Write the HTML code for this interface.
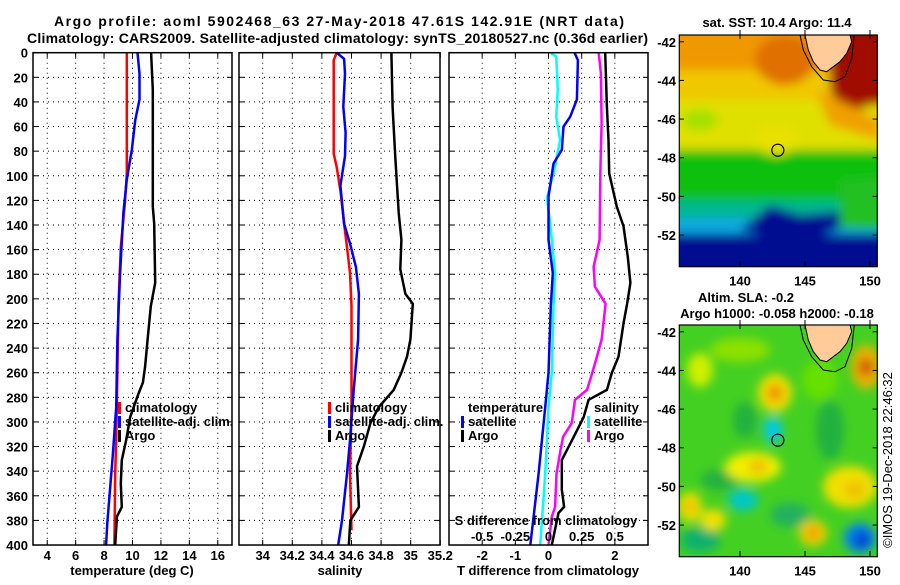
<!DOCTYPE html>
<html><head><meta charset="utf-8"><style>
body{margin:0;background:#fff;}
svg text{font-family:"Liberation Sans",sans-serif;font-weight:bold;fill:#000;}
</style></head><body>
<svg id="c" width="900" height="580" viewBox="0 0 900 580" xmlns="http://www.w3.org/2000/svg">
<defs>
<filter id="bl" x="-20%" y="-20%" width="140%" height="140%"><feGaussianBlur stdDeviation="5"/></filter>
<filter id="bl2" x="-50%" y="-50%" width="200%" height="200%"><feGaussianBlur stdDeviation="5"/></filter>
<clipPath id="cm1"><rect x="679.3" y="35" width="198" height="231.7"/></clipPath>
<clipPath id="cm2"><rect x="679.3" y="325" width="198" height="231.7"/></clipPath>
</defs>
<text x="54" y="26" font-size="14" textLength="570">Argo profile: aoml 5902468_63 27-May-2018 47.61S 142.91E (NRT data)</text>
<text x="27" y="43" font-size="14" textLength="621">Climatology: CARS2009. Satellite-adjusted climatology: synTS_20180527.nc (0.36d earlier)</text>
<g id="g"></g>
</svg>
<script>
// ---- data (depth in m) ----
const tClimDepth=[0,98,120,158,206,260,315,342,400];
const tClimVal=[9.6,9.6,9.48,9.18,9.01,8.94,8.85,8.78,8.73];
const tSatDepth=[0,17,38,55,79,103,130,179,233,288,328,355,382,400];
const tSatVal=[10.35,10.49,10.49,10.19,9.95,9.6,9.36,9.13,8.94,8.85,8.61,8.42,8.23,8.14];
const tArgoDepth=[0,30,125,139,187,206,233,255,268,277,296,315,331,350,369,377,400];
const tArgoVal=[11.31,11.43,11.43,11.53,11.6,11.29,11.06,10.89,10.73,10.42,9.84,9.55,9.25,9.18,9.25,8.9,8.78];
const sClimDepth=[0,6,82,93,112,139,158,179,206,288,342,388];
const sClimVal=[34.50,34.48,34.48,34.50,34.525,34.55,34.57,34.59,34.60,34.60,34.59,34.60];
const sSatDepth=[0,5,17,44,65,84,108,139,155,174,196,233,274,315,342,380,400];
const sSatVal=[34.50,34.55,34.556,34.545,34.56,34.556,34.525,34.55,34.59,34.63,34.65,34.645,34.615,34.59,34.57,34.536,34.51];
const sArgoDepth=[0,44,85,130,152,176,196,204,233,247,260,274,288,301,320,336,369,380,400];
const sArgoVal=[34.87,34.878,34.896,34.919,34.937,34.93,34.964,35.014,34.998,34.975,34.937,34.885,34.784,34.728,34.683,34.637,34.65,34.593,34.582];
const dTSatDepth=[0,6,38,52,60,79,90,117,152,179,206,260,288,342,400];
const dTSatVal=[0.785,0.887,0.855,0.654,0.452,0.4,0.15,0,0,0.13,0.07,0,-0.1,-0.3,-0.55];
const dTArgoDepth=[0,44,71,98,125,141,166,187,204,220,247,260,274,282,296,307,315,331,355,369,374,400];
const dTArgoVal=[1.71,1.76,1.81,1.83,2.06,2.26,2.39,2.47,2.37,2.26,2.11,1.91,1.76,1.21,1.06,0.856,0.705,0.40,0.40,0.47,0.30,0.10];
const dSSatDepth=[0,3,30,52,71,98,118,139,179,206,260,288,342,400];
const dSSatVal=[0.0125,0.058,0.07,0.058,0.0875,0.0375,-0.0125,0.0125,0.05,0.0375,0.025,0,-0.025,-0.0625];
const dSArgoDepth=[0,17,57,98,152,174,190,204,233,247,260,274,282,301,312,323,342,369,377,400];
const dSArgoVal=[0.378,0.395,0.40,0.39,0.385,0.34,0.35,0.43,0.40,0.365,0.33,0.29,0.20,0.175,0.11,0.09,0.06,0.05,0.025,0];
const depthTicks=[0,20,40,60,80,100,120,140,160,180,200,220,240,260,280,300,320,340,360,380,400];
const tTicks=[4,6,8,10,12,14,16];
const sTicks=[34,34.2,34.4,34.6,34.8,35,35.2];
const sTickLabels=["34","34.2","34.4","34.6","34.8","35","35.2"];
const dTTicks=[-2,-1,0,1,2];
const dTTickLabels=["-2","-1","0","","2"];
const dSTicks=[-0.5,-0.25,0,0.25,0.5];
const dSTickLabels=["-0.5","-0.25","0","0.25","0.5"];
const latTicks=[-42,-44,-46,-48,-50,-52];
const lonTicks=[140,145,150];
const argoLon=142.91, argoLat=-47.61;

// ---- axes ----
const yD=d=>52.7+d*1.2308;
const xT=t=>33+(t-3)*14.214;
const xS=s=>239+(s-33.84)*148;
const xD=t=>449+(t+3)*33.17;
const xDS=s=>xD(s*4);
const mx=lon=>679.3+(lon-135.33)*13;
const my1=lat=>35+(-41.65-lat)*19.33;
const my2=lat=>325+(-41.65-lat)*19.33;

const NS='http://www.w3.org/2000/svg';
const G=document.getElementById('g');
function mk(tag,at,parent){const e=document.createElementNS(NS,tag);for(const k in at)e.setAttribute(k,at[k]);(parent||G).appendChild(e);return e;}
function txt(s,at,parent){const e=mk('text',at,parent);e.textContent=s;return e;}

const panels=[{x0:33,x1:232,xs:tTicks.map(xT)},{x0:239,x1:440,xs:sTicks.map(xS)},{x0:449,x1:648,xs:dTTicks.map(xD)}];
const pNames=['temperature-panel','salinity-panel','difference-panel'];
panels.forEach((p,i)=>{
  const g=mk('g',{});
  
  
  p.g=g;
  depthTicks.forEach(d=>{
    const y=yD(d);
    if(d>0&&d<400){const l=mk('line',{x1:p.x0,x2:p.x1,y1:y,y2:y,stroke:'#000','stroke-width':1,'stroke-dasharray':'1,4'},g);
      }
    mk('line',{x1:p.x0,x2:p.x0+5,y1:y,y2:y,stroke:'#000'},g);
    mk('line',{x1:p.x1-5,x2:p.x1,y1:y,y2:y,stroke:'#000'},g);
  });
  p.xs.forEach(x=>{
    if(x>p.x0+1&&x<p.x1-1){const l=mk('line',{x1:x,x2:x,y1:yD(0),y2:yD(400),stroke:'#000','stroke-width':1,'stroke-dasharray':'1,4'},g);
      }
    mk('line',{x1:x,x2:x,y1:yD(400)-5,y2:yD(400),stroke:'#000'},g);
    mk('line',{x1:x,x2:x,y1:yD(0),y2:yD(0)+5,stroke:'#000'},g);
  });
});
depthTicks.forEach(d=>{const t=txt(String(d),{x:28,y:yD(d)+5,'font-size':13,'text-anchor':'end'});
  });
tTicks.forEach(v=>{const t=txt(String(v),{x:xT(v),y:560,'font-size':13,'text-anchor':'middle'});
  });
sTicks.forEach((v,i)=>{const t=txt(sTickLabels[i],{x:xS(v),y:560,'font-size':13,'text-anchor':'middle'});
  });
dTTicks.forEach((v,i)=>{const t=txt(dTTickLabels[i],{x:xD(v),y:560,'font-size':13,'text-anchor':'middle'});
  });
dSTicks.forEach((v,i)=>{const t=txt(dSTickLabels[i],{x:xDS(v),y:541,'font-size':13,'text-anchor':'middle'});
  });
let t;
t=txt('S difference from climatology',{x:546,y:525,'font-size':13,'text-anchor':'middle'});

t=txt('temperature (deg C)',{x:132,y:575,'font-size':13,'text-anchor':'middle'});

t=txt('salinity',{x:340,y:575,'font-size':13,'text-anchor':'middle'});

t=txt('T difference from climatology',{x:548,y:575,'font-size':13,'text-anchor':'middle'});


function line(dep,val,xf,col,name,parent){
  const pts=dep.map((d,i)=>xf(val[i]).toFixed(1)+','+yD(d).toFixed(1)).join(' ');
  const e=mk('polyline',{points:pts,fill:'none',stroke:col,'stroke-width':2.5,'stroke-linejoin':'miter'},parent);
  
  
}
line(tClimDepth,tClimVal,xT,'#f00','temp-climatology-line',panels[0].g);
line(tSatDepth,tSatVal,xT,'#00f','temp-satellite-line',panels[0].g);
line(tArgoDepth,tArgoVal,xT,'#000','temp-argo-line',panels[0].g);
line(sClimDepth,sClimVal,xS,'#f00','sal-climatology-line',panels[1].g);
line(sSatDepth,sSatVal,xS,'#00f','sal-satellite-line',panels[1].g);
line(sArgoDepth,sArgoVal,xS,'#000','sal-argo-line',panels[1].g);
line(dSSatDepth,dSSatVal,xDS,'#0ff','s-diff-satellite-line',panels[2].g);
line(dTSatDepth,dTSatVal,xD,'#00f','t-diff-satellite-line',panels[2].g);
line(dSArgoDepth,dSArgoVal,xDS,'#f0f','s-diff-argo-line',panels[2].g);
line(dTArgoDepth,dTArgoVal,xD,'#000','t-diff-argo-line',panels[2].g);

panels.forEach(p=>{mk('rect',{x:p.x0,y:yD(0),width:p.x1-p.x0,height:yD(400)-yD(0),fill:'none',stroke:'#000','stroke-width':1.5},p.g);});

function leg(x,y,col,label,name){
  const g=mk('g',{});
  
  
  if(col) mk('rect',{x:x-7,y:y-10,width:3,height:12,fill:col},g);
  txt(label,{x:x,y:y,'font-size':13},g);
}
leg(125,412,'#f00','climatology','legend-climatology');
leg(125,426,'#00f','satellite-adj. clim.','legend-satellite-adj');
leg(125,440,'#000','Argo','legend-argo');
leg(335,412,'#f00','climatology','legend-climatology');
leg(335,426,'#00f','satellite-adj. clim.','legend-satellite-adj');
leg(335,440,'#000','Argo','legend-argo');
leg(468,412,null,'temperature','legend-temperature-header');
leg(468,426,'#00f','satellite','legend-temp-satellite');
leg(468,440,'#000','Argo','legend-temp-argo');
leg(594,412,null,'salinity','legend-salinity-header');
leg(594,426,'#0ff','satellite','legend-sal-satellite');
leg(594,440,'#f0f','Argo','legend-sal-argo');

function mapAxes(myf,top,name){
  const g=mk('g',{});
  
  
  latTicks.forEach(l=>{const y=myf(l);
    txt(String(l),{x:676,y:y+5,'font-size':13,'text-anchor':'end'},g);
    mk('line',{x1:679.3,x2:684,y1:y,y2:y,stroke:'#000'},g);
    mk('line',{x1:872.6,x2:877.3,y1:y,y2:y,stroke:'#000'},g);});
  lonTicks.forEach(l=>{const x=mx(l);
    txt(String(l),{x:x,y:top+231.7+19,'font-size':13,'text-anchor':'middle'},g);
    mk('line',{x1:x,x2:x,y1:top+226,y2:top+231.7,stroke:'#000'},g);
    mk('line',{x1:x,x2:x,y1:top-5,y2:top+4,stroke:'#000'},g);});
  mk('rect',{x:679.3,y:top,width:198,height:231.7,fill:'none',stroke:'#000','stroke-width':1.2},g);
}
function tas(oy,parent){
  mk('polygon',{points:[[800,35],[803.3,50],[811.7,66.7],[823.3,80],[835,81.7],[845,76.7],[851.7,58.3],[854.3,35]].map(p=>p[0]+','+(p[1]+oy)).join(' '),fill:'none',stroke:'#000','stroke-width':1},parent);
  mk('polygon',{points:[[805,35],[808.3,50],[813.3,61.7],[820,70],[826.7,71.7],[833.3,66.7],[840,61.7],[846.7,53.3],[851.7,41.7],[850,35]].map(p=>p[0]+','+(p[1]+oy)).join(' '),fill:'#fc9',stroke:'#000','stroke-width':1},parent);
}
// SST map
const m1=mk('g',{'clip-path':'url(#cm1)'});


const b1=mk('g',{filter:'url(#bl)'},m1);
[[25,45,'#f09800'],[70,30,'#f0c800'],[100,50,'#e0e000'],[150,55,'#10c010'],[200,20,'#00b890'],[218,18,'#10a8e0'],[234,50,'#000c90']].forEach(r=>mk('rect',{x:660,y:r[0],width:240,height:r[1],fill:r[2]},b1));
mk('ellipse',{cx:785,cy:60,rx:30,ry:25,fill:'#e07000'},b1);
mk('polygon',{points:'830,20 900,20 900,105 870,105 845,115 830,90',fill:'#a01000'},b1);
mk('polygon',{points:'815,90 860,110 880,120 880,140 830,125',fill:'#f0a000'},b1);
mk('ellipse',{cx:776,cy:140,rx:22,ry:15,fill:'#e8e000'},b1);
mk('ellipse',{cx:700,cy:120,rx:18,ry:10,fill:'#a0e000'},b1);
mk('polygon',{points:'740,230 770,205 800,215 830,212 900,215 900,225 850,225 820,235 780,238',fill:'#000c90'},b1);
mk('polygon',{points:'840,180 900,175 900,230 840,228',fill:'#20c020'},b1);
tas(0,m1);
mk('circle',{cx:mx(argoLon),cy:my1(argoLat),r:6,fill:'none',stroke:'#000','stroke-width':1.2},m1);
mapAxes(my1,35,'sst-map');
// SLA map
const m2=mk('g',{'clip-path':'url(#cm2)'});


mk('rect',{x:679,y:325,width:199,height:232,fill:'#44d022'},m2);
const b2=mk('g',{filter:'url(#bl2)'},m2);
[[740,350,30,12,'#8ee000'],[820,380,18,20,'#66e000'],[720,480,20,10,'#22b040'],[830,430,14,30,'#22b040'],[700,540,20,12,'#10b070'],[790,515,20,12,'#20b060'],[745,420,12,18,'#22b040'],
 [775,393,17,19,'#f0e000'],[775,393,8,9,'#f09000'],[866,367,15,22,'#f0b000'],[866,367,7,9,'#c85000'],[700,370,13,17,'#d0f000'],
 [773,430,9,13,'#00c8f0'],[753,467,28,15,'#f0f000'],[758,467,10,8,'#f0c000'],[850,487,27,21,'#f0e000'],[855,490,10,9,'#f0c000'],[690,507,12,15,'#f0e000'],[690,507,5,6,'#f0b000'],[713,520,13,11,'#f0e000'],
 [743,500,15,11,'#00c8c8'],[813,533,14,13,'#f0d000'],[813,533,6,6,'#f09000'],[860,538,16,15,'#0080f0'],[862,540,7,7,'#0020c0']].forEach(b=>mk('ellipse',{cx:b[0],cy:b[1],rx:b[2],ry:b[3],fill:b[4]},b2));
tas(290,m2);
mk('circle',{cx:mx(argoLon),cy:my2(argoLat),r:6,fill:'none',stroke:'#000','stroke-width':1.2},m2);
mapAxes(my2,325,'sla-map');

t=txt('sat. SST: 10.4 Argo: 11.4',{x:777,y:27,'font-size':13,'text-anchor':'middle'});

t=txt('Altim. SLA: -0.2',{x:746,y:302,'font-size':13,'text-anchor':'middle'});

t=txt('Argo h1000: -0.058 h2000: -0.18',{x:777,y:318,'font-size':13,'text-anchor':'middle'});

t=txt('©IMOS 19-Dec-2018 22:46:32',{x:0,y:0,'font-size':13,'text-anchor':'middle',transform:'translate(892,460) rotate(-90)'});
t.style.fontWeight='normal';

</script>
</body></html>
